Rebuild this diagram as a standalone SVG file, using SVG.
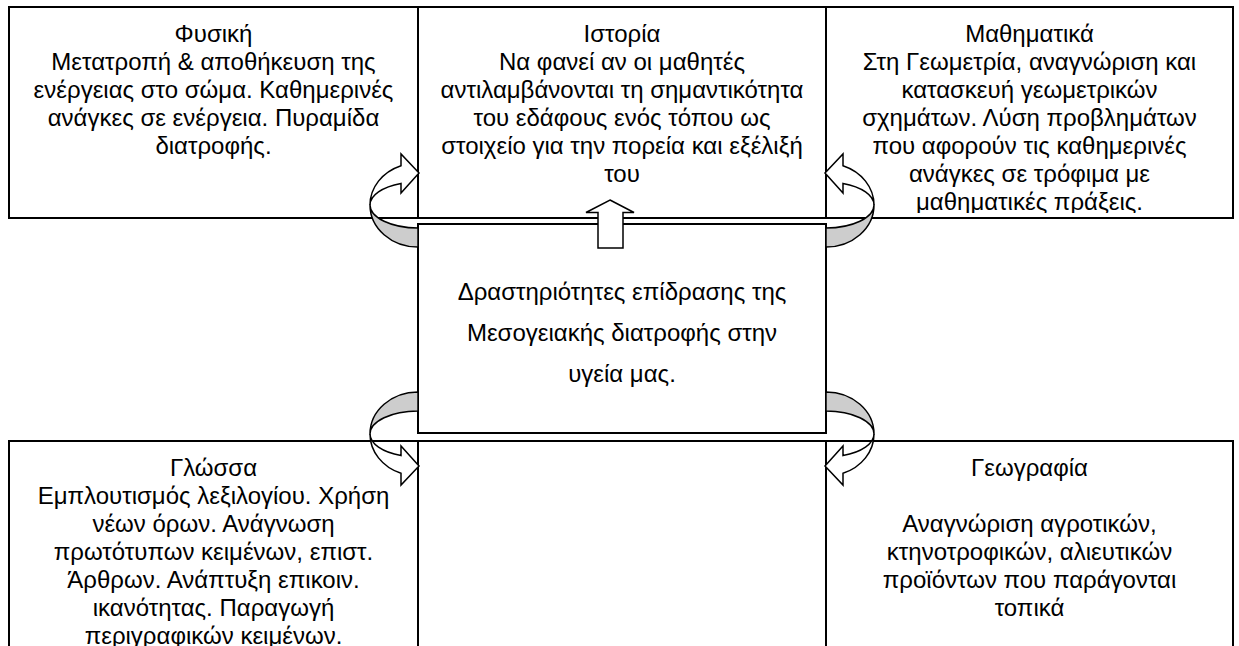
<svg xmlns="http://www.w3.org/2000/svg" width="1239" height="646" viewBox="0 0 1239 646">
<style>
.box{fill:#fff;stroke:#000;stroke-width:2}
.t{font-family:"Liberation Sans",Arial,sans-serif;font-size:24px;fill:#000;text-anchor:middle}
.band{fill:#cdcdcd;stroke:#000;stroke-width:1.5;stroke-linejoin:round}
.sweep{fill:#fff;stroke:#000;stroke-width:1.5;stroke-linejoin:miter}
</style>
<defs>
<clipPath id="mathClip"><rect x="826" y="7" width="407" height="206"/></clipPath>
<g id="curl">
<path class="band" d="M418,247 A48 42 0 0 1 370,205 A48 23 0 0 0 418,228 Z"/>
<path class="sweep" d="M370,205 A48 42 0 0 1 401,165.7 L401,154 L419,173 L401,193 L401,183.5 A48 23 0 0 0 370,205 Z"/>
</g>
</defs>
<rect width="1239" height="646" fill="#fff"/>
<g id="fysiki">
<rect class="box" x="9" y="7" width="409" height="211"/>
<text class="t" x="213.5" y="41.5">Φυσική</text>
<text class="t" x="213.5" y="69.5">Μετατροπή &amp; αποθήκευση της</text>
<text class="t" x="213.5" y="97.5">ενέργειας στο σώμα. Καθημερινές</text>
<text class="t" x="213.5" y="125.5">ανάγκες σε ενέργεια. Πυραμίδα</text>
<text class="t" x="213.5" y="153.5">διατροφής.</text>
</g>
<g id="istoria">
<rect class="box" x="418" y="7" width="408" height="211"/>
<text class="t" x="622" y="41.5">Ιστορία</text>
<text class="t" x="622" y="69.5">Να φανεί αν οι μαθητές</text>
<text class="t" x="622" y="97.5">αντιλαμβάνονται τη σημαντικότητα</text>
<text class="t" x="622" y="125.5">του εδάφους ενός τόπου ως</text>
<text class="t" x="622" y="153.5">στοιχείο για την πορεία και εξέλιξή</text>
<text class="t" x="622" y="181.5">του</text>
</g>
<g id="mathimatika">
<rect class="box" x="826" y="7" width="407" height="211"/>
<g clip-path="url(#mathClip)">
<text class="t" x="1029.5" y="41.5">Μαθηματικά</text>
<text class="t" x="1029.5" y="69.5">Στη Γεωμετρία, αναγνώριση και</text>
<text class="t" x="1029.5" y="97.5">κατασκευή γεωμετρικών</text>
<text class="t" x="1029.5" y="125.5">σχημάτων. Λύση προβλημάτων</text>
<text class="t" x="1029.5" y="153.5">που αφορούν τις καθημερινές</text>
<text class="t" x="1029.5" y="181.5">ανάγκες σε τρόφιμα με</text>
<text class="t" x="1029.5" y="209.5">μαθηματικές πράξεις.</text>
</g>
</g>
<g id="glossa">
<rect class="box" x="9" y="441" width="409" height="220"/>
<text class="t" x="213.5" y="476">Γλώσσα</text>
<text class="t" x="213.5" y="504">Εμπλουτισμός λεξιλογίου. Χρήση</text>
<text class="t" x="213.5" y="532">νέων όρων. Ανάγνωση</text>
<text class="t" x="213.5" y="560">πρωτότυπων κειμένων, επιστ.</text>
<text class="t" x="213.5" y="588">Άρθρων. Ανάπτυξη επικοιν.</text>
<text class="t" x="213.5" y="616">ικανότητας. Παραγωγή</text>
<text class="t" x="213.5" y="644">περιγραφικών κειμένων.</text>
</g>
<g id="kato-mesi">
<rect class="box" x="418" y="441" width="408" height="220"/>
</g>
<g id="geografia">
<rect class="box" x="826" y="441" width="407" height="220"/>
<text class="t" x="1029.5" y="476">Γεωγραφία</text>
<text class="t" x="1029.5" y="532">Αναγνώριση αγροτικών,</text>
<text class="t" x="1029.5" y="560">κτηνοτροφικών, αλιευτικών</text>
<text class="t" x="1029.5" y="588">προϊόντων που παράγονται</text>
<text class="t" x="1029.5" y="616">τοπικά</text>
</g>
<g id="kentro">
<rect class="box" x="418" y="224" width="408" height="209"/>
<text class="t" x="622" y="299.5">Δραστηριότητες επίδρασης της</text>
<text class="t" x="622" y="340.5">Μεσογειακής διατροφής στην</text>
<text class="t" x="622" y="381.5">υγεία μας.</text>
</g>
<g id="connectors">
<use href="#curl"/>
<use href="#curl" transform="matrix(-1 0 0 1 1244 0)"/>
<use href="#curl" transform="matrix(1 0 0 -1 0 639)"/>
<use href="#curl" transform="matrix(-1 0 0 -1 1244 639)"/>
<path class="sweep" d="M610,200 L634,212.5 L623,212.5 L623,248 L598,248 L598,212.5 L586,212.5 Z"/>
</g>
</svg>
